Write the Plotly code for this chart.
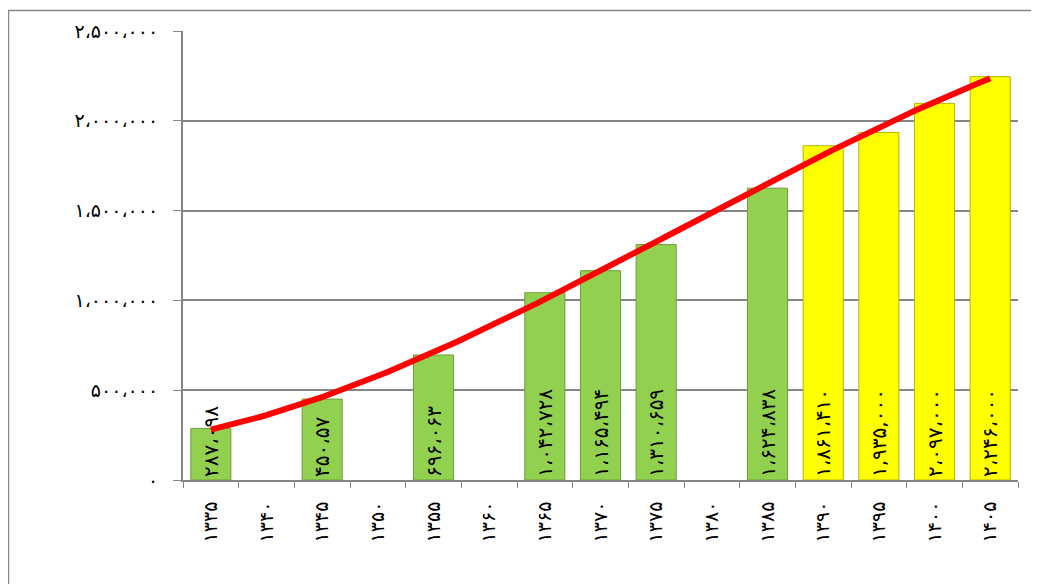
import numpy as np
import plotly.graph_objects as go

years = ["۱۳۳۵", "۱۳۴۰", "۱۳۴۵", "۱۳۵۰", "۱۳۵۵", "۱۳۶۰", "۱۳۶۵", "۱۳۷۰",
         "۱۳۷۵", "۱۳۸۰", "۱۳۸۵", "۱۳۹۰", "۱۳۹۵", "۱۴۰۰", "۱۴۰۵"]
values = [287098, None, 450576, None, 696063, None, 1042728, 1165494,
          1310659, None, 1624838, 1861410, 1935000, 2097000, 2246000]
labels = ["۲۸۷،۰۹۸", "", "۴۵۰،۵۷", "", "۶۹۶،۰۶۳", "", "۱،۰۴۲،۷۲۸", "۱،۱۶۵،۴۹۴",
          "۱،۳۱۰،۶۵۹", "", "۱،۶۲۴،۸۳۸", "۱،۸۶۱،۴۱۰", "۱,۹۳۵,۰۰۰", "۲،۰۹۷،۰۰۰", "۲،۲۴۶،۰۰۰"]
kinds = ["c", "", "c", "", "c", "", "c", "c", "c", "", "c", "p", "p", "p", "p"]
ytickvals = [0, 500000, 1000000, 1500000, 2000000, 2500000]
yticktext = ["۰", "۵۰۰،۰۰۰", "۱،۰۰۰،۰۰۰", "۱،۵۰۰،۰۰۰", "۲،۰۰۰،۰۰۰", "۲،۵۰۰،۰۰۰"]

colors = ["#FFFF00" if k == "p" else "#92D050" for k in kinds]
lines = ["#B5B500" if k == "p" else "#6E9E3A" for k in kinds]

# polynomial trendline (as in the original spreadsheet chart) fitted to the bar data
idx = np.array([i for i, v in enumerate(values) if v is not None], dtype=float)
vals = np.array([v for v in values if v is not None], dtype=float)
coef = np.polyfit(idx, vals, 3)
tx = np.linspace(idx[0], idx[-1], 200)
ty = np.polyval(coef, tx)

fig = go.Figure()
fig.add_trace(go.Bar(
    x=years, y=values, text=labels,
    marker=dict(color=colors, line=dict(color=lines, width=1)),
    textposition="inside", insidetextanchor="start", textangle=-90,
    textfont=dict(family="DejaVu Sans", size=20, color="black"),
    cliponaxis=False, hoverinfo="skip", showlegend=False,
))
fig.add_trace(go.Scatter(
    x=tx, y=ty, mode="lines", xaxis="x2",
    line=dict(color="#FF0000", width=6),
    showlegend=False, hoverinfo="skip",
))

L, T, PW, PH = 175, 21, 835, 451
fig.update_layout(
    width=1039, height=584,
    margin=dict(l=L, r=1039 - L - PW, t=T, b=584 - T - PH),
    paper_bgcolor="white", plot_bgcolor="white",
    bargap=0.28,
    uniformtext=dict(minsize=20, mode="show"),
    font=dict(family="DejaVu Sans", color="black"),
    xaxis=dict(
        type="category", categoryorder="array", categoryarray=years,
        range=[-0.5, 14.5],
        tickangle=-90, tickfont=dict(size=19, family="DejaVu Sans"),
        showline=True, linecolor="#868686", linewidth=2,
        ticks="outside", ticklen=6, tickcolor="#868686", tickson="boundaries",
        showgrid=False, ticklabelstandoff=12,
    ),
    xaxis2=dict(overlaying="x", range=[-0.5, 14.5], visible=False),
    yaxis=dict(
        range=[0, 2500000], tickvals=ytickvals, ticktext=yticktext,
        tickfont=dict(size=19, family="DejaVu Sans"),
        showline=True, linecolor="#868686", linewidth=2,
        ticks="outside", ticklen=8, tickcolor="#868686",
        showgrid=True, gridcolor="#868686", gridwidth=1.5,
        zeroline=False, ticklabelstandoff=11,
    ),
    shapes=[
        dict(type="line", xref="paper", yref="paper",
             x0=-L / PW, x1=1.2, y0=(PH + T - 0.5) / PH, y1=(PH + T - 0.5) / PH,
             line=dict(color="#868686", width=1.5)),
        dict(type="line", xref="paper", yref="paper",
             x0=(-L + 0.5) / PW, x1=(-L + 0.5) / PW, y0=-0.4, y1=(PH + T) / PH,
             line=dict(color="#868686", width=1.5)),
    ],
)

fig.write_html("out.html")
